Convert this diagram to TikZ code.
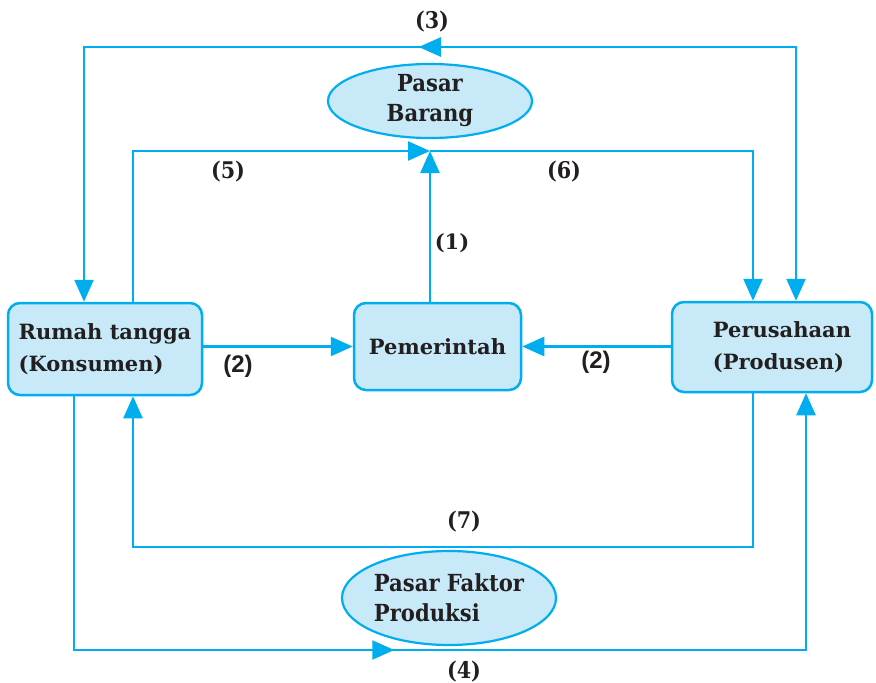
\documentclass[tikz,border=0pt]{standalone}
\usepackage{fontspec}
\usetikzlibrary{arrows.meta,decorations.markings,shapes.geometric}
\setmainfont{DejaVu Serif}
\newfontfamily\condfont{DejaVu Serif Condensed Bold}
\newfontfamily\sansbold{Liberation Sans Bold}

\definecolor{flow}{HTML}{00AEEF}
\definecolor{boxfill}{HTML}{C8E9F8}
\definecolor{ink}{HTML}{231F20}

\tikzset{flowtip/.tip={Triangle[length=22pt,width=19pt]}}

\begin{document}
\begin{tikzpicture}[x=1pt,y=-1pt,
  agent/.style={draw=flow, fill=boxfill, line width=2.5pt, rounded corners=12pt,
    text=ink, font=\fontsize{21}{32}\selectfont\bfseries, align=left, inner sep=0pt},
  market/.style={ellipse, draw=flow, fill=boxfill, line width=2.2pt, text=ink,
    font=\condfont\fontsize{23.5}{30}\selectfont, inner sep=0pt},
  flowline/.style={color=flow, line width=2.5pt},
  midtip/.style={postaction={decorate, decoration={markings,
    mark=at position #1 with {\arrow{flowtip}}}}},
  num/.style={text=ink, font=\condfont\fontsize{23}{23}\selectfont},
  numserif/.style={text=ink, font=\fontsize{21}{21}\selectfont\bfseries},
  numsans/.style={text=ink, font=\sansbold\fontsize{24}{24}\selectfont},
]
\useasboundingbox (0,0) rectangle (876,683);

% economic agents
\node[agent, minimum width=194pt, minimum height=92pt] (rumah) at (105,349)
  {Rumah tangga\\(Konsumen)};
\node[agent, minimum width=167pt, minimum height=87pt] (pem) at (437.5,346.5)
  {Pemerintah};
\node[agent, minimum width=200pt, minimum height=90pt] (prs) at (772,347)
  {\hspace*{20pt}Perusahaan\\\hspace*{20pt}(Produsen)};

% markets
\node[market, align=center, minimum width=204pt, minimum height=74pt] (barang) at (430,101)
  {Pasar\\Barang};
\node[market, align=left, minimum width=214pt, minimum height=94pt] (faktor) at (449,598)
  {Pasar Faktor\\Produksi};

% junction below the goods market and routing corners
\coordinate (m) at (430,151);
\coordinate (t3) at (430,47);
\coordinate (b7) at (450,547);
\coordinate (b4) at (450,650);

% flows
\draw[flowline, -{flowtip}] (rumah.east |- pem.west) -- (pem.west);
\draw[flowline, -{flowtip}] (prs.west |- pem.east) -- (pem.east);
\draw[flowline, -{flowtip}] (pem.north -| m) -- (m);
\draw[flowline, -{flowtip}] ([xshift=28pt]rumah.north) |- (m);
\draw[flowline, -{flowtip}] (m) -| ([xshift=-19pt]prs.north);
\draw[flowline, {flowtip}-{flowtip}, midtip=631pt]
  ([xshift=24pt]prs.north) |- (t3) -| ([xshift=-21pt]rumah.north);
\draw[flowline, -{flowtip}] ([xshift=-19pt]prs.south) |- (b7) -| ([xshift=28pt]rumah.south);
\draw[flowline, -{flowtip}, midtip=574pt]
  ([xshift=-31pt]rumah.south) |- (b4) -| ([xshift=34pt]prs.south);

% flow numbers
\node[num] (n3) at (432,22) {(3)};
\node[num] (n5) at (228,172) {(5)};
\node[num] (n6) at (564,172) {(6)};
\node[numserif] (n1) at (452,243) {(1)};
\node[numsans] (n2a) at (238,366) {(2)};
\node[numsans] (n2b) at (596,362) {(2)};
\node[num] (n7) at (464,522) {(7)};
\node[num] (n4) at (464,672) {(4)};
\end{tikzpicture}
\end{document}
